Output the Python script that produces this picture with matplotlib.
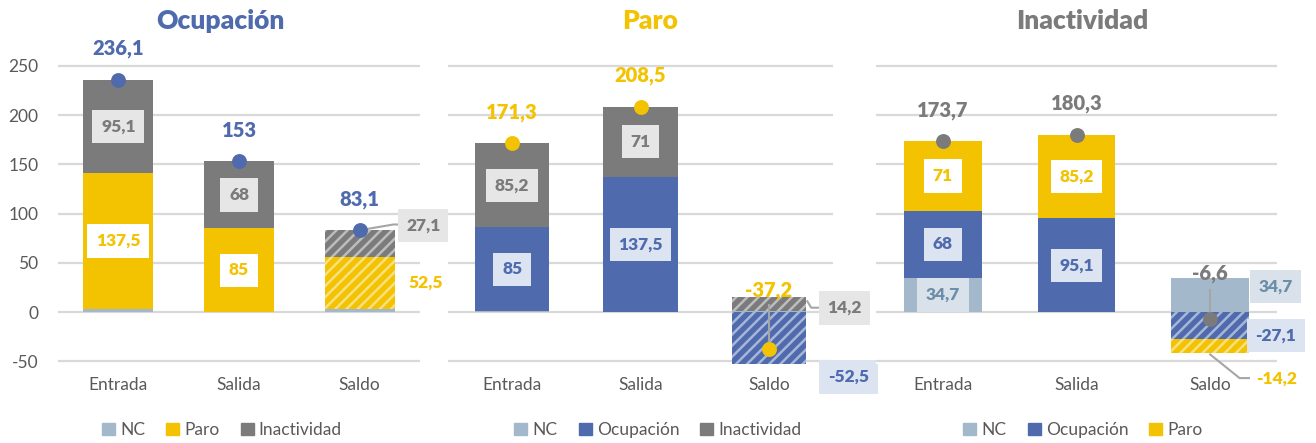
import matplotlib
matplotlib.use("Agg")
import matplotlib.pyplot as plt
import numpy as np

plt.rcParams['font.family'] = ['Lato', 'DejaVu Sans']
plt.rcParams['axes.unicode_minus'] = False
plt.rcParams['hatch.linewidth'] = 1.8

# ---- data ----
categories = ["Entrada", "Salida", "Saldo"]

ocu_nc = [3.5, 0, 3.5]
ocu_paro = [137.5, 85, 52.5]
ocu_inac = [95.1, 68, 27.1]
ocu_total = [236.1, 153, 83.1]

par_nc = [1.1, 0, 1.1]
par_ocu = [85, 137.5, -52.5]
par_inac = [85.2, 71, 14.2]
par_total = [171.3, 208.5, -37.2]

ina_nc = [34.7, 0, 34.7]
ina_ocu = [68, 95.1, -27.1]
ina_paro = [71, 85.2, -14.2]
ina_total = [173.7, 180.3, -6.6]

yticks = [-50, 0, 50, 100, 150, 200, 250]

# ---- styles ----
COL = {"NC": "#a3b8ca", "Ocupación": "#4f6bae", "Paro": "#f3c200", "Inactividad": "#7b7b7b"}
TXT = {"NC": "#6d8ea8", "Ocupación": "#4f6bae", "Paro": "#f3c200", "Inactividad": "#7b7b7b"}
BG = {"NC": "#d9e2ea", "Ocupación": "#dce3f1", "Paro": "white", "Inactividad": "#e6e6e6"}
GRAY = "#595959"
WEIGHT = "heavy"


def fmt(v):
    return ("%g" % v).replace(".", ",")


fig = plt.figure(figsize=(13.16, 4.43), dpi=100)
W, H = 1316.0, 443.0
y_bot, y_top = -53, 252
ax_b = (H - 364.3) / H
ax_h = (364.3 - 64.0) / H

panels = [
    ("Ocupación", [("NC", ocu_nc), ("Paro", ocu_paro), ("Inactividad", ocu_inac)], ocu_total, 58, 420, 220, 222),
    ("Paro", [("NC", par_nc), ("Ocupación", par_ocu), ("Inactividad", par_inac)], par_total, 448, 833, 650, 658),
    ("Inactividad", [("NC", ina_nc), ("Ocupación", ina_ocu), ("Paro", ina_paro)], ina_total, 876, 1277, 1082, 1083),
]

# labels of the Saldo column, placed outside the bar (x, y in data units)
saldo_labels = [
    [("Inactividad", 2.53, 88, True, [(2.04, 84), (2.28, 89), (2.36, 89)]),
     ("Paro", 2.55, 30, False, None),
     ("total", 2.0, 83.1 + 31 / 0.986, False, None)],
    [("Inactividad", 2.59, 4, True, [(2.3, 11), (2.33, 4.5), (2.41, 4.5)]),
     ("Ocupación", 2.62, -66, True, None),
     ("total", 2.0, 22, False, [(2.0, 7), (2.0, -37.2)])],
    [("NC", 2.49, 26, True, None),
     ("Ocupación", 2.49, -24, True, None),
     ("Paro", 2.5, -68, False, [(2.0, -43), (2.22, -67), (2.29, -67)]),
     ("total", 2.0, 39.5, False, [(2.0, 22), (2.0, -6.6)])],
]

x = np.arange(len(categories))
for p, (title, series, total, px0, px1, tx, lx) in enumerate(panels):
    ax = fig.add_axes([px0 / W, ax_b, (px1 - px0) / W, ax_h])
    ax.set_xlim(-0.5, 2.5)
    ax.set_ylim(y_bot, y_top)
    ax.set_yticks(yticks)
    ax.grid(axis="y", color="#d9d9d9", lw=1.6, zorder=0)
    ax.set_axisbelow(True)
    for s in ax.spines.values():
        s.set_visible(False)
    ax.tick_params(length=0, colors=GRAY, labelsize=12.5)
    ax.tick_params(axis="x", pad=9)
    ax.set_xticks(x)
    ax.set_xticklabels(categories, color=GRAY)
    if p > 0:
        ax.set_yticklabels([])
    else:
        ax.tick_params(axis="y", pad=14)

    pos = np.zeros(3)
    neg = np.zeros(3)
    handles = []
    for name, vals in series:
        vals = np.array(vals, dtype=float)
        bottoms = np.where(vals >= 0, pos, neg)
        for i in range(3):
            hatched = (i == 2 and name != "NC")
            ax.bar(x[i], vals[i], bottom=bottoms[i], width=0.58, color=COL[name],
                   hatch="///" if hatched else None,
                   edgecolor=(1, 1, 1, 0.5) if hatched else COL[name],
                   linewidth=0, zorder=2)
            if i < 2 and abs(vals[i]) >= 10:
                ax.text(x[i], bottoms[i] + vals[i] / 2, fmt(vals[i]), ha="center", va="center",
                        fontsize=12.5, fontweight=WEIGHT, color=TXT[name], zorder=4,
                        bbox=dict(boxstyle="square,pad=0.5", fc=BG[name], ec="none"))
        handles.append(plt.Rectangle((0, 0), 1, 1, color=COL[name], label=name))
        pos = np.where(vals >= 0, pos + vals, pos)
        neg = np.where(vals < 0, neg + vals, neg)

    tcol = COL[title]
    ax.scatter(x, total, s=115, color=tcol, zorder=6, linewidths=0)
    for i in range(2):
        ax.annotate(fmt(total[i]), (x[i], total[i]), xytext=(0, 31), textcoords="offset pixels",
                    ha="center", va="center", fontsize=14.5, fontweight=WEIGHT, color=tcol,
                    annotation_clip=False, zorder=7)

    vals_by_name = dict(series)
    for name, lx_, ly_, boxed, leader in saldo_labels[p]:
        if leader is not None:
            ax.plot([q[0] for q in leader], [q[1] for q in leader], color="#a6a6a6", lw=1.5,
                    clip_on=False, zorder=5)
        if name == "total":
            ax.text(lx_, ly_, fmt(total[2]), ha="center", va="center", fontsize=14.5,
                    fontweight=WEIGHT, color=tcol, zorder=7, clip_on=False)
            continue
        kw = dict(boxstyle="square,pad=0.5", fc=BG[name], ec="none") if boxed else None
        ax.text(lx_, ly_, fmt(vals_by_name[name][2]), ha="center", va="center", fontsize=12.5,
                fontweight=WEIGHT, color=TXT[name], zorder=7, bbox=kw, clip_on=False)

    fig.text(tx / W, 1 - 21 / H, title, ha="center", va="center", fontsize=19,
             fontweight=WEIGHT, color=tcol)
    fig.legend(handles=handles, loc="center", bbox_to_anchor=(lx / W, 1 - 430 / H),
               ncol=3, frameon=False, fontsize=12.5, handlelength=0.75, handleheight=0.75,
               handletextpad=0.3, columnspacing=1.2, labelcolor=GRAY)

fig.savefig("out.png", dpi=100)
